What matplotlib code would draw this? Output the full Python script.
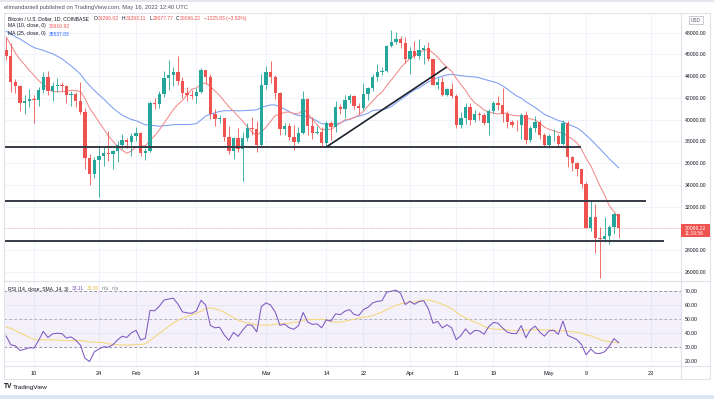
import matplotlib
matplotlib.use("Agg")
import matplotlib.pyplot as plt
from matplotlib.patches import Rectangle
from matplotlib.lines import Line2D
import numpy as np
import pandas as pd

plt.rcParams['font.family'] = ['Liberation Sans', 'DejaVu Sans']

W, H = 714, 399

# daily closes before the visible window (only used for MA / RSI warm-up)
warmup_closes = [57230, 56510, 53600, 49150, 49400, 50590, 50560, 50480, 47550, 47140,
                 49390, 50100, 46720, 48380, 48880, 47650, 46200, 46860, 46700, 46880,
                 48940, 48620, 50840, 50420, 50800, 50640, 50700, 47540, 46470, 47140,
                 46210, 47740, 47310, 46430]

dates = pd.date_range("2022-01-04", "2022-05-16", freq="D")

closes = [45838, 43431, 43083, 41557, 41733, 41912, 41820, 42736, 43950, 42592,
          43099, 43177, 43113, 42250, 42375, 41744, 40681, 36457, 35030, 36276,
          36654, 36954, 36852, 37138, 37713, 38166, 37917, 38483,
          38743, 36952, 37154, 41501, 41441, 42406, 43841, 44118, 44339, 43565,
          42407, 42244, 42197, 42586, 44575, 43961, 40538, 40031, 40126, 38431,
          37075, 38286, 37296, 38332, 39214, 39105, 37709, 43193,
          44354, 43924, 42451, 39137, 39400, 38420, 37988, 38730, 41941, 39439,
          38794, 38904, 37849, 39666, 39338, 41143, 40951, 41801, 42190, 41247,
          41077, 42358, 42892, 43960, 44348, 44500, 46820, 47128, 47465, 47062, 45538,
          46281, 45868, 46453, 46622, 45555, 43206, 43503, 42287, 42782, 42207,
          39521, 40127, 41166, 39936, 40552, 40424, 39716, 40827, 41503, 41374,
          40527, 39740, 39478, 39469, 40458, 38120, 39241, 39773, 38609, 37714,
          38469, 38529, 37750, 39698, 36575, 36013, 35472, 34039, 30071, 31017,
          29103, 29030, 29283, 30101, 31292, 30066.22]

highs = [47500, 47070, 43750, 43150, 42300, 42800, 42250, 43000, 44350, 44450,
         43450, 43800, 43480, 43180, 42680, 42540, 43500, 41100, 36840, 36560,
         37550, 37550, 38920, 37230, 38000, 38700, 38350, 38750,
         39280, 38850, 37400, 41730, 41960, 42650, 44500, 45500, 44800, 45850,
         43900, 43000, 42750, 42880, 44750, 44600, 44200, 40980, 40450, 40170,
         39450, 38450, 39200, 38850, 39700, 40250, 39850, 44200,
         44950, 45400, 44100, 42500, 39700, 39650, 39550, 39350, 42600, 41950,
         40200, 39380, 39300, 39900, 39880, 41700, 41470, 42300, 42400, 42300,
         41550, 43350, 43000, 44200, 45100, 44800, 46900, 48250, 48100, 47700, 47600,
         46700, 47200, 47440, 46900, 47100, 45500, 43900, 43950, 42900, 43400,
         42400, 40700, 41550, 41500, 40850, 40700, 40600, 41000, 41750, 42200,
         42950, 40800, 39980, 39950, 40600, 40800, 39450, 40350, 39950, 38800,
         38700, 39150, 38650, 40000, 39850, 36650, 36100, 35500, 34300, 32650,
         32200, 30100, 31000, 30300, 31400, 31293.11]

lows = [45520, 42500, 42430, 40810, 40500, 41200, 39650, 41250, 42460, 42300,
        41720, 42570, 42600, 41560, 41250, 41140, 40550, 35440, 34020, 34600,
        32930, 35700, 36230, 35500, 36150, 37320, 37350, 36650,
        38020, 36630, 36250, 36980, 40950, 41100, 42040, 42700, 43130, 43180,
        42000, 41750, 41860, 41570, 42450, 43320, 40100, 39450, 39650, 38000,
        36800, 36370, 37050, 34320, 38000, 38600, 37050, 37500,
        42850, 43400, 41900, 38600, 38600, 38100, 37200, 37850, 38650, 38550,
        38250, 38700, 37600, 37600, 38150, 38900, 40550, 40150, 41500, 40950,
        40500, 40880, 41800, 42600, 43600, 44100, 44400, 46650, 46950, 46550, 45200,
        44200, 45650, 45600, 45150, 45400, 43150, 42800, 42150, 42150, 42000,
        39200, 39250, 39600, 39550, 39800, 40000, 39550, 38550, 40600, 40850,
        39800, 39200, 39300, 39000, 38200, 37750, 37900, 38900, 38200, 37600,
        37400, 38050, 37500, 37700, 35600, 35250, 34800, 33700, 30000, 29750,
        27700, 25400, 28700, 28600, 29450, 29077.77]

# hand-drawn levels: price, right end
h_levels = [37520, 32530, 28800]
h_level_ends = ["2022-05-07 19:00", "2022-05-21 22:00", "2022-05-25 19:00"]
trend_pts = [("2022-03-14 05:00", 37540), ("2022-04-08 19:00", 44800)]

price_ticks = list(range(26000, 48001, 2000))
rsi_ticks = [20, 30, 40, 50, 60, 70]
time_ticks = ["2022-01-10", "2022-01-24", "2022-02-01", "2022-02-14", "2022-03-01",
              "2022-03-14", "2022-03-22", "2022-04-01", "2022-04-11", "2022-04-19",
              "2022-05-01", "2022-05-09", "2022-05-23"]
time_labels = ["10", "24", "Feb", "14", "Mar", "14", "22", "Apr", "11", "19", "May", "9", "23"]

UP, DOWN = "#26a69a", "#ef5350"
GRID = "#f0f3fa"
BORDER = "#e0e3eb"
TXT = "#131722"

# indicators
all_close = pd.Series(warmup_closes + closes, dtype=float)
ma10 = all_close.rolling(10).mean().values[-len(closes):]
ma25 = all_close.rolling(25).mean().values[-len(closes):]
delta = all_close.diff().fillna(0)
gain = delta.clip(lower=0).ewm(alpha=1 / 14, adjust=False).mean()
loss = (-delta.clip(upper=0)).ewm(alpha=1 / 14, adjust=False).mean()
rsi_all = 100 - 100 / (1 + gain / loss)
rsi_sma_all = rsi_all.rolling(14).mean()
rsi = rsi_all.values[-len(closes):]
rsi_sma = rsi_sma_all.values[-len(closes):]

opens = np.array((warmup_closes + closes)[len(warmup_closes) - 1:-1], dtype=float)
closes_a = np.array(closes, dtype=float)


def day(ts):
    return (pd.Timestamp(ts) - dates[0]) / pd.Timedelta(days=1)


x = np.array([day(d) for d in dates])
x_left, x_right = -0.466, 145.44


def rect(x0, y0, x1, y1):
    return [x0 / W, 1 - y1 / H, (x1 - x0) / W, (y1 - y0) / H]


def ftext(px, py, s, **kw):
    kw.setdefault("va", "center")
    kw.setdefault("fontsize", 4.2)
    return fig.text(px / W, 1 - py / H, s, **kw)


def seq_text(px, py, parts, size=3.6):
    # lay out pieces one after another, measured so they never overlap
    rend = fig.canvas.get_renderer()
    for s, color, gap in parts:
        t = ftext(px, py, s, color=color, fontsize=size)
        px += t.get_window_extent(rend).width + gap


def fline(xs, ys, **kw):
    fig.add_artist(Line2D([v / W for v in xs], [1 - v / H for v in ys],
                          transform=fig.transFigure, **kw))


fig = plt.figure(figsize=(W / 100, H / 100), dpi=100)
fig.patch.set_facecolor("white")

ax = fig.add_axes(rect(4, 13, 681, 281))
axr = fig.add_axes(rect(4, 281, 681, 366), sharex=ax)

xt = [day(t) for t in time_ticks]

for a in (ax, axr):
    for s in ("top", "left", "bottom"):
        a.spines[s].set_visible(False)
    a.spines["right"].set_color(BORDER)
    a.spines["right"].set_linewidth(0.8)
    a.yaxis.tick_right()
    a.set_xticks(xt)
    a.grid(True, color=GRID, lw=0.7, zorder=0)
    a.set_axisbelow(True)
    a.tick_params(length=0, labelsize=3.7, colors=TXT, pad=2.9)

ax.set_xlim(x_left, x_right)
ax.set_ylim(25156, 49812)
ax.set_yticks(price_ticks)
ax.set_yticklabels([f"{v:.2f}" for v in price_ticks])
ax.tick_params(axis="x", labelbottom=False)

# moving averages
ax.plot(x, ma25, color="#7d9df2", lw=0.75, zorder=2)
ax.plot(x, ma10, color="#f38b8b", lw=0.75, zorder=2)

# candles
up = closes_a >= opens
cols = np.where(up, UP, DOWN)
ax.vlines(x, lows, highs, colors=cols, lw=0.6, zorder=3)
bottoms = np.minimum(opens, closes_a)
heights = np.maximum(np.abs(closes_a - opens), 60)
ax.bar(x, heights, bottom=bottoms, width=0.72, color=cols, lw=0, zorder=4)

# drawn lines
for lvl, end in zip(h_levels, h_level_ends):
    ax.plot([x_left - 1, day(end)], [lvl, lvl], color="#363a45", lw=1.4,
            solid_capstyle="butt", zorder=5)
ax.plot([day(trend_pts[0][0]), day(trend_pts[1][0])],
        [trend_pts[0][1], trend_pts[1][1]], color="#1e222d", lw=1.2, zorder=5)

# last price line
ax.axhline(closes[-1], color=DOWN, lw=0.5, ls=(0, (1, 1.5)), alpha=0.6, zorder=1)

# RSI pane
axr.set_ylim(16.44, 76.9)
axr.set_yticks(rsi_ticks)
axr.set_yticklabels([f"{v:.2f}" for v in rsi_ticks])
axr.set_xticklabels(time_labels)
axr.tick_params(axis="x", labelsize=4, pad=3.3)
axr.axhspan(30, 70, color="#7e57c2", alpha=0.08, lw=0, zorder=1)
for lvl in (70, 50, 30):
    axr.axhline(lvl, color="#787b86", lw=0.6, ls=(0, (3, 3)), alpha=0.9 if lvl != 50 else 0.6, zorder=2)
axr.plot(x, rsi_sma, color="#f4d77a", lw=0.75, zorder=3)
axr.plot(x, rsi, color="#7e57c2", lw=0.75, zorder=4)

# frame / separators
fig.add_artist(Rectangle((4 / W, 1 - 379 / H), 706 / W, 366 / H, transform=fig.transFigure,
                         fill=False, edgecolor=BORDER, lw=0.8))
fline([4, 710], [281, 281], color=BORDER, lw=0.9)
fline([4, 710], [366, 366], color=BORDER, lw=0.8)
fline([681, 681], [281, 379], color=BORDER, lw=0.8)
fline([0, 714], [0.5, 0.5], color=BORDER, lw=1.2)
fig.add_artist(Rectangle((0, 0), 1, 4 / H, transform=fig.transFigure,
                         color="#dde6f4", lw=0))

# header and legends
ftext(4, 7, "elimandaniell published on TradingView.com, May 16, 2022 12:40 UTC", color="#50535e")
seq_text(8, 18.5, [("Bitcoin / U.S. Dollar, 1D, COINBASE", TXT, 5),
                   ("O", TXT, 0.3), ("31290.02", DOWN, 3),
                   ("H", TXT, 0.3), ("31293.11", DOWN, 3),
                   ("L", TXT, 0.3), ("29077.77", DOWN, 3),
                   ("C", TXT, 0.3), ("30066.22", DOWN, 3),
                   ("\u22121225.83 (\u22123.92%)", DOWN, 0)])
seq_text(8, 26, [("MA (10, close, 0)", TXT, 3), ("30910.92", DOWN, 0)])
seq_text(8, 34, [("MA (25, close, 0)", TXT, 3), ("35537.83", "#2962ff", 0)])
seq_text(8, 289, [("RSI (14, close, SMA, 14, 3)", TXT, 3), ("33.11", "#7e57c2", 3),
                  ("32.80", "#e6c04a", 3), ("n/a", "#787b86", 3), ("n/a", "#787b86", 0)])

# USD badge
fig.add_artist(Rectangle((689 / W, 1 - 24 / H), 14 / W, 8 / H, transform=fig.transFigure,
                         fill=False, edgecolor="#b2b5be", lw=0.5))
ftext(696, 20, "USD", fontsize=3.4, color="#50535e", ha="center")

# last price badge
fig.add_artist(Rectangle((681 / W, 1 - 237 / H), 29 / W, 13 / H, transform=fig.transFigure,
                         color=DOWN, lw=0))
ftext(685, 228.2, "30066.22", fontsize=3.7, color="white")
ftext(685, 233.2, "11:19:56", fontsize=3.5, color="white")

# footer logo
ftext(4, 387, "TV", fontsize=4.8, color=TXT, fontweight="bold")
ftext(13, 387, "TradingView", fontsize=4.6, color=TXT)

fig.savefig("out.png", dpi=100)
